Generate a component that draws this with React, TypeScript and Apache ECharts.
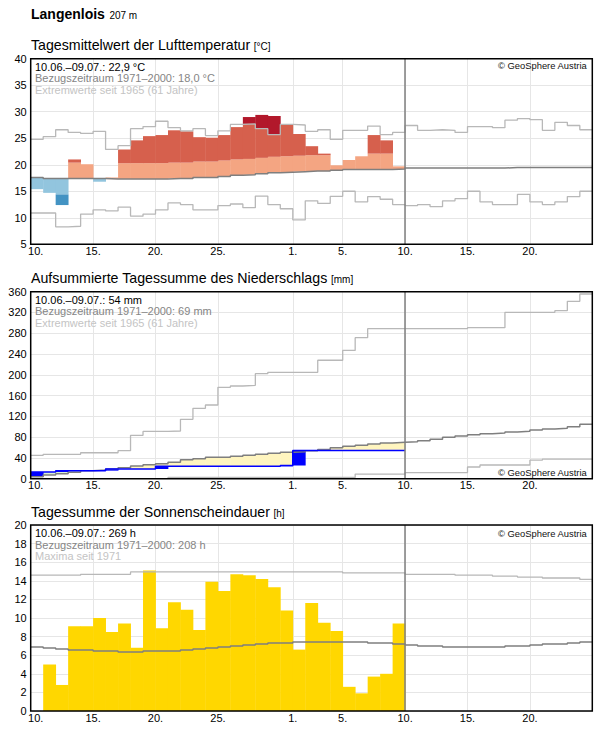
import React, { useEffect, useRef } from 'react';
import * as echarts from 'echarts';

// ---------- axis categories & ticks ----------
const dayCategories = [
  '10.6', '11.6', '12.6', '13.6', '14.6', '15.6', '16.6', '17.6', '18.6', '19.6', '20.6',
  '21.6', '22.6', '23.6', '24.6', '25.6', '26.6', '27.6', '28.6', '29.6', '30.6',
  '1.7', '2.7', '3.7', '4.7', '5.7', '6.7', '7.7', '8.7', '9.7', '10.7', '11.7', '12.7',
  '13.7', '14.7', '15.7', '16.7', '17.7', '18.7', '19.7', '20.7', '21.7', '22.7', '23.7',
  '24.7', '25.7',
];
const tickCategories = ['10.6', '15.6', '20.6', '25.6', '1.7', '5.7', '10.7', '15.7', '20.7'];
const tickLabels = ['10.', '15.', '20.', '25.', '1.', '5.', '10.', '15.', '20.'];
const todayCategory = '10.7';

// ---------- temperature (°C) ----------
const tempValues = [15.4, 14.7, 12.4, 21.0, 20.1, 16.8, 17.6, 22.9, 24.6, 25.4, 25.6, 26.5, 26.3, 25.2, 25.1,
  25.6, 27.1, 29.0, 29.4, 29.2, 27.5, 25.8, 23.5, 22.1, 19.9, 20.9, 21.6, 25.6, 24.6, 19.7];
const tempMean = [17.6, 17.4, 17.4, 17.4, 17.4, 17.4, 17.3, 17.3, 17.3, 17.3, 17.3, 17.4, 17.4, 17.6, 17.6,
  17.8, 18.0, 18.1, 18.3, 18.5, 18.6, 18.7, 18.8, 18.8, 18.95, 19.1, 19.1, 19.1, 19.1, 19.2,
  19.37, 19.37, 19.37, 19.37, 19.37, 19.37, 19.37, 19.37, 19.5, 19.5, 19.5, 19.5, 19.5, 19.5, 19.5];
const tempMax = [24.8, 25.3, 26.6, 26.1, 25.9, 26.3, 22.9, 23.6, 26.8, 27.2, 28.2, 27.0, 26.4, 26.8, 25.5,
  26.4, 27.6, 27.7, 26.8, 25.7, 27.6, 27.5, 26.3, 26.6, 24.8, 26.5, 26.5, 27.3, 25.7, 26.1,
  27.4, 26.5, 26.6, 26.5, 26.1, 27.2, 27.2, 27.0, 28.4, 28.7, 28.5, 26.5, 28.0, 27.4, 26.6];
const tempMin = [10.9, 10.9, 8.3, 8.4, 10.7, 11.5, 11.3, 12.0, 10.3, 10.7, 11.5, 12.8, 12.5, 11.5, 11.5,
  12.3, 12.6, 11.9, 14.1, 12.5, 11.7, 9.6, 13.2, 12.7, 14.05, 15.0, 13.0, 14.0, 13.5, 12.5,
  12.3, 12.5, 12.1, 13.2, 13.6, 15.0, 13.0, 12.5, 12.5, 14.4, 13.0, 12.5, 13.0, 14.0, 15.0];
const tempBand = 3; // anomaly band width (°C)

// ---------- precipitation (mm) ----------
const precipStart = 3.9; // level the first daily block starts from
const precipDaily = [9.0, 0, 2.6, 0, 0, 0, 3.2, 0, 0, 0, 5.1, 0, 0, 0, 0, 0, 0, 0, 0, 0,
  1.6, 29.0, 0, 0, 0, 0, 0, 0, 0, 0];
const precipMean = [3.9, 7.1, 9.6, 12.3, 15.5, 16.8, 18.7, 21.2, 24.5, 27.0, 28.9, 31.8, 36.6, 38.6, 41.1,
  41.1, 43.1, 45.0, 46.9, 48.8, 50.8, 52.0, 54.0, 56.0, 59.7, 62.3, 64.2, 66.8, 68.7, 70.0,
  71.3, 73.2, 75.8, 79.6, 82.2, 84.8, 86.7, 88.0, 89.9, 91.2, 93.8, 95.7, 97.0, 100.2, 104.7];
const precipMax = [45, 47, 47, 47, 50, 50, 50, 54, 83.5, 91, 91, 91.8, 114.3, 135.5, 141.9,
  175.9, 178.5, 179.8, 202.2, 204.8, 204.8, 204.8, 204.8, 228, 228, 247, 271.5, 288.9, 288.9, 288.9,
  288.9, 288.9, 288.9, 288.9, 288.9, 290.8, 290.8, 290.8, 320.3, 320.3, 320.3, 320.3, 323.5, 341.5, 355.6];
const precipMin = [0, 0, 0, 0, 0, 0, 0, 0, 0, 0, 0, 2.3, 2.3, 2.3, 2.3,
  2.3, 2.3, 2.3, 2.3, 2.3, 2.3, 2.3, 2.3, 2.3, 2.3, 2.3, 9.0, 9.0, 9.0, 9.0,
  11.8, 11.8, 11.8, 11.8, 11.8, 22.5, 26.4, 26.4, 26.4, 26.4, 35.7, 37.5, 37.5, 37.5, 37.5];

// ---------- sunshine (h) ----------
const sunValues = [null, 5.0, 2.8, 9.1, 9.1, 10.0, 8.5, 9.4, 6.8, 15.1, 8.9, 11.7, 10.9, 8.7, 13.9,
  12.9, 14.7, 14.6, 14.2, 13.3, 10.8, 6.6, 11.6, 9.5, 8.6, 2.6, 1.9, 3.7, 4.0, 9.4];
const sunMean = [6.88, 6.77, 6.67, 6.56, 6.56, 6.45, 6.45, 6.34, 6.34, 6.45, 6.45, 6.45, 6.56, 6.67, 6.77,
  6.88, 6.99, 7.10, 7.20, 7.31, 7.31, 7.42, 7.42, 7.42, 7.42, 7.42, 7.42, 7.31, 7.31, 7.20,
  7.10, 6.99, 6.99, 6.88, 6.88, 6.88, 6.88, 6.88, 6.99, 6.99, 7.10, 7.20, 7.20, 7.31, 7.42];
const sunMax = [14.6, 14.6, 14.6, 14.6, 14.7, 14.7, 14.7, 14.7, 14.95, 14.95, 14.95, 14.95, 14.95, 14.95, 14.95,
  14.95, 14.95, 14.95, 14.95, 14.95, 14.95, 14.95, 14.95, 14.95, 14.95, 14.85, 14.85, 14.85, 14.85, 14.85,
  14.7, 14.7, 14.7, 14.7, 14.6, 14.6, 14.6, 14.5, 14.5, 14.4, 14.4, 14.3, 14.3, 14.3, 14.15];

// ---------- texts ----------
const stationName = 'Langenlois';
const stationHeight = '207 m';
const panelTitles = ['Tagesmittelwert der Lufttemperatur', 'Aufsummierte Tagessumme des Niederschlags', 'Tagessumme der Sonnenscheindauer'];
const panelUnits = ['[°C]', '[mm]', '[h]'];
const panelInfo = [
  ['10.06.–09.07.: 22,9 °C', 'Bezugszeitraum 1971–2000: 18,0 °C', 'Extremwerte seit 1965 (61 Jahre)'],
  ['10.06.–09.07.: 54 mm', 'Bezugszeitraum 1971–2000: 69 mm', 'Extremwerte seit 1965 (61 Jahre)'],
  ['10.06.–09.07.: 269 h', 'Bezugszeitraum 1971–2000: 208 h', 'Maxima seit 1971'],
];
const copyright = '© GeoSphere Austria';

// ---------- layout / style ----------
const W = 596;
const H = 729;
const GL = 30.7;
const GR = 3.7;
const panels = [
  { top: 58.7, height: 185.6, titleY: 45, copyY: 65.7 },
  { top: 291.7, height: 187, titleY: 278.3, copyY: 472.3 },
  { top: 525, height: 186, titleY: 512.3, copyY: 533.7 },
];
const FONT = "'Liberation Sans', Arial, Helvetica, sans-serif";
const TITLE_SIZE = 14.2;
const C = {
  warm1: '#f4a582', warm2: '#d6604d', warm3: '#b2182b',
  cold1: '#92c5de', cold2: '#4393c3', cold3: '#2166ac',
  mean: '#7f7f7f', extreme: '#b8b8b8', grid: '#e6e6e6',
  wet: '#d9f0d3', dry: '#fff5bf', rain: '#0000ff', sun: '#ffd700',
};

const stepData = (arr: number[]) => [...arr, arr[arr.length - 1]];

function measure(text: string, size: number, weight = 'normal') {
  const cv = document.createElement('canvas');
  const ctx = cv.getContext('2d');
  if (!ctx) return text.length * size * 0.5;
  ctx.font = `${weight} ${size}px ${FONT}`;
  return ctx.measureText(text).width;
}

function rectBetween(api: any, i: number, a: number, b: number, fill: string) {
  const p0 = api.coord([i, Math.max(a, b)]);
  const p1 = api.coord([i + 1, Math.min(a, b)]);
  return {
    type: 'rect',
    shape: { x: p0[0], y: p0[1], width: p1[0] - p0[0] + 0.4, height: p1[1] - p0[1] },
    style: { fill },
  };
}

function tempSegments(v: number, m: number, mx: number, mn: number) {
  const segs: [number, number, string][] = [];
  if (v >= m) {
    const t = m + tempBand;
    segs.push([m, Math.min(v, t), C.warm1]);
    if (v > t) {
      const cap = Math.max(mx, t);
      segs.push([t, Math.min(v, cap), C.warm2]);
      if (v > cap) segs.push([cap, v, C.warm3]);
    }
  } else {
    const t = m - tempBand;
    segs.push([Math.max(v, t), m, C.cold1]);
    if (v < t) {
      const cap = Math.min(mn, t);
      segs.push([Math.max(v, cap), t, C.cold2]);
      if (v < cap) segs.push([v, cap, C.cold3]);
    }
  }
  return segs;
}

function lineSeries(gi: number, data: number[], color: string, width: number, extra: any = {}) {
  return {
    type: 'line', xAxisIndex: gi, yAxisIndex: gi, data, step: 'end', showSymbol: false, symbol: 'none',
    lineStyle: { color, width }, itemStyle: { color }, silent: true, z: 3, ...extra,
  };
}

const todayMarkLine = {
  silent: true, symbol: ['none', 'none'], label: { show: false },
  lineStyle: { color: '#7f7f7f', width: 1.5, type: 'solid' },
  data: [{ xAxis: todayCategory }],
};

function buildOption() {
  const xAxes = panels.map((_, gi) => ({
    type: 'category', gridIndex: gi, data: dayCategories, boundaryGap: false,
    axisLine: { show: false }, axisTick: { show: false },
    axisLabel: {
      interval: (idx: number) => tickCategories.includes(dayCategories[idx]),
      formatter: (value: string) => {
        const k = tickCategories.indexOf(value);
        if (k < 0) return '';
        return k === 0 ? `{first|${tickLabels[k]}}` : tickLabels[k];
      },
      rich: { first: { padding: [0, 0, 0, 10], fontSize: 11, fontFamily: FONT, color: '#000' } },
      fontSize: 11, color: '#000', fontFamily: FONT, margin: 1,
    },
    splitLine: {
      show: true,
      interval: (idx: number) => idx !== 0 && tickCategories.includes(dayCategories[idx]),
      lineStyle: { color: C.grid, width: 1 },
    },
  }));
  const yDefs = [
    { min: 5, max: 40, interval: 5 },
    { min: 0, max: 360, interval: 40 },
    { min: 0, max: 20, interval: 2 },
  ];
  const yAxes = yDefs.map((d, gi) => ({
    type: 'value', gridIndex: gi, min: d.min, max: d.max, interval: d.interval,
    axisLine: { show: false }, axisTick: { show: false },
    axisLabel: { fontSize: 11, color: '#000', fontFamily: FONT, margin: 4 },
    splitLine: { lineStyle: { color: C.grid, width: 1 } },
  }));
  const grids = panels.map((p) => ({ left: GL, right: GR, top: p.top, height: p.height, containLabel: false }));

  // precipitation cumulative
  const precipCum: number[] = [];
  precipDaily.forEach((d, i) => precipCum.push((i ? precipCum[i - 1] : precipStart) + d));

  const series: any[] = [
    // temperature
    {
      type: 'custom', xAxisIndex: 0, yAxisIndex: 0, silent: true, z: 2,
      data: tempValues.map((v, i) => [i, v, tempMean[i], tempMax[i], tempMin[i]]),
      encode: { x: 0, y: 1 },
      renderItem: (_p: any, api: any) => {
        const i = api.value(0);
        const segs = tempSegments(api.value(1), api.value(2), api.value(3), api.value(4));
        return { type: 'group', children: segs.map(([a, b, c]) => rectBetween(api, i, a, b, c)) };
      },
    },
    lineSeries(0, stepData(tempMax), C.extreme, 1.3),
    lineSeries(0, stepData(tempMin), C.extreme, 1.3),
    lineSeries(0, stepData(tempMean), C.mean, 1.5, { markLine: todayMarkLine }),

    // precipitation fills (actual vs mean)
    {
      type: 'custom', xAxisIndex: 1, yAxisIndex: 1, silent: true, z: 2,
      data: precipCum.map((v, i) => [i, v, precipMean[i]]),
      encode: { x: 0, y: 1 },
      renderItem: (_p: any, api: any) => {
        const i = api.value(0);
        const v = api.value(1);
        const m = api.value(2);
        return rectBetween(api, i, v, m, v > m ? C.wet : C.dry);
      },
    },
    // daily increments
    {
      type: 'custom', xAxisIndex: 1, yAxisIndex: 1, silent: true, z: 2,
      data: precipDaily.map((d, i) => [i, precipCum[i] - d, precipCum[i]]).filter((r) => r[2] > r[1]),
      encode: { x: 0, y: 2 },
      renderItem: (_p: any, api: any) => rectBetween(api, api.value(0), api.value(1), api.value(2), C.rain),
    },
    lineSeries(1, stepData(precipMax), C.extreme, 1.3),
    lineSeries(1, stepData(precipMin), C.extreme, 1.3),
    lineSeries(1, stepData(precipMean), C.mean, 1.5, { markLine: todayMarkLine }),
    lineSeries(1, stepData(precipCum), C.rain, 1.5, { z: 4 }),

    // sunshine
    {
      type: 'custom', xAxisIndex: 2, yAxisIndex: 2, silent: true, z: 2,
      data: sunValues.map((v, i) => [i, v]).filter((r) => r[1] != null),
      encode: { x: 0, y: 1 },
      renderItem: (_p: any, api: any) => rectBetween(api, api.value(0), 0, api.value(1), C.sun),
    },
    lineSeries(2, stepData(sunMax), C.extreme, 1.3),
    lineSeries(2, stepData(sunMean), C.mean, 1.5, { markLine: todayMarkLine }),
  ];

  const txt = (text: string, x: number, y: number, fontSize: number, fill: string, extra: any = {}) => ({
    type: 'text', x, y, silent: true, z: 110,
    style: { text, fontSize, fontFamily: FONT, fill, align: 'left', verticalAlign: 'middle', ...extra },
  });

  const elements: any[] = [
    txt(stationName, 31, 14.3, 14, '#000', { fontWeight: 'bold' }),
    txt(stationHeight, 31 + measure(stationName, 14, 'bold') + 4.5, 15.7, 10, '#000'),
  ];
  const infoColors = ['#000', '#858585', '#c4c4c4'];
  panels.forEach((p, gi) => {
    const titleW = measure(panelTitles[gi], TITLE_SIZE);
    elements.push(txt(panelTitles[gi], 31, p.titleY, TITLE_SIZE, '#000'));
    elements.push(txt(panelUnits[gi], 31 + titleW + 3.5, p.titleY + 1.4, 10, '#000'));
    panelInfo[gi].forEach((line, k) => {
      elements.push(txt(line, GL + 4.3, p.top + 7.8 + k * 11.8, 11, infoColors[k]));
    });
    elements.push(txt(copyright, W - GR - 5.6, p.copyY, 9.4, '#111', { align: 'right' }));
    elements.push({
      type: 'rect', silent: true, z: 100,
      shape: { x: GL, y: p.top, width: W - GL - GR, height: p.height },
      style: { fill: 'none', stroke: '#000', lineWidth: 1.5 },
    });
  });

  return {
    animation: false,
    backgroundColor: '#fff',
    textStyle: { fontFamily: FONT },
    grid: grids,
    xAxis: xAxes,
    yAxis: yAxes,
    series,
    graphic: { elements },
  };
}

export default function App() {
  const ref = useRef<HTMLDivElement>(null);
  useEffect(() => {
    document.body.style.margin = '0';
    if (!ref.current) return;
    const chart = echarts.init(ref.current, undefined, { renderer: 'svg', width: W, height: H });
    chart.setOption(buildOption() as any);
    return () => chart.dispose();
  }, []);
  return <div ref={ref} style={{ width: W, height: H }} />;
}
